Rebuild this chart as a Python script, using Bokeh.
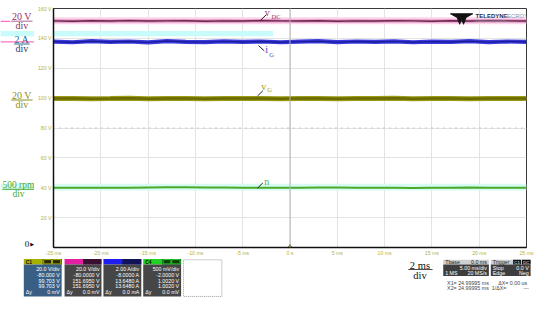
from bokeh.plotting import figure
from bokeh.models import Range1d, FixedTicker, Label, BoxAnnotation, Span
from bokeh.layouts import column, row
from bokeh.embed import file_html
from bokeh.resources import INLINE
from bokeh.core.properties import value

# ---------------- data ----------------
time_ms = [-25, -23, -21, -19, -17, -15, -13, -11, -9, -7, -5, -3, -1,
           1, 3, 5, 7, 9, 11, 13, 15, 17, 19, 21, 23, 25]
v_dc = [151.7, 151.5, 151.8, 151.6, 151.9, 151.6, 151.7, 151.8, 151.5, 151.7, 151.6, 151.9, 151.7,
        151.6, 151.8, 151.5, 151.7, 151.6, 151.8, 151.7, 151.5, 151.8, 151.6, 151.9, 151.7, 151.6]
i_g = [137.8, 137.4, 138.1, 137.6, 137.9, 137.3, 138.2, 137.7, 137.5, 138.0, 137.6, 137.9, 137.4,
       137.8, 138.1, 137.5, 137.9, 137.6, 138.0, 137.4, 137.8, 137.6, 138.1, 137.5, 137.9, 137.7]
v_g = [99.7, 99.8, 99.6, 99.7, 99.9, 99.6, 99.7, 99.8, 99.6, 99.7, 99.8, 99.7, 99.6,
       99.8, 99.7, 99.6, 99.8, 99.7, 99.9, 99.6, 99.7, 99.8, 99.6, 99.7, 99.8, 99.7]
n_disp = [40.0, 40.0, 40.0, 40.0, 40.0, 40.2, 40.3, 40.3, 40.2, 40.1, 40.0, 40.0, 40.0,
          40.0, 40.1, 40.1, 40.0, 40.0, 40.0, 39.9, 40.0, 40.0, 40.1, 40.0, 40.0, 40.0]

x_ticks = [-25, -20, -15, -10, -5, 0, 5, 10, 15, 20, 25]
x_tick_labels = ["-25 ms", "-20 ms", "-15 ms", "-10 ms", "-5 ms", "0 s",
                 "5 ms", "10 ms", "15 ms", "20 ms", "25 ms"]
y_ticks = [0, 20, 40, 60, 80, 100, 120, 140, 160]
y_tick_labels = ["", "20 V", "40 V", "60 V", "80 V", "100 V", "120 V", "140 V", "160 V"]
trigger_time = [0]
trigger_level = [0]

ch_rows = {
    "C1": ["20.0 V/div", "-80.000 V", "99.703 V", "99.703 V", "0 mV"],
    "C2": ["20.0 V/div", "-80.0000 V", "151.6950 V", "151.6950 V", "0.0 mV"],
    "C3": ["2.00 A/div", "-8.0000 A", "13.6480 A", "13.6480 A", "0.0 mA"],
    "C4": ["500 mV/div", "-2.0000 V", "1.0020 V", "1.0020 V", "0.0 mV"],
}

# ---------------- geometry ----------------
W, H = 534, 304
SX, SY = W / 550.0, H / 320.0       # reference pixels -> canvas pixels
LW = 34                             # left strip width
H1 = 258                            # height of the top row
FL, FR, FT, FB = 50.0, 526.0, 8.0, 247.0   # main frame in canvas pixels


def mX(rx):
    return -25 + (rx * SX - FL) * 50.0 / (FR - FL)


def mY(ry):
    return (FB - ry * SY) * 160.0 / (FB - FT)


SANS = "Liberation Sans"
SERIF = "Liberation Serif"

# ---------------- main scope figure ----------------
p = figure(width=W - LW, height=H1, x_range=Range1d(-25, 25), y_range=Range1d(0, 160),
           output_backend="svg", toolbar_location=None,
           min_border_left=int(FL - LW), min_border_right=int(W - FR),
           min_border_top=int(FT), min_border_bottom=int(H1 - FB))
p.background_fill_color = "white"
p.border_fill_color = "white"
p.outline_line_color = "#3a3a3a"
p.outline_line_width = 1

p.xaxis.ticker = FixedTicker(ticks=x_ticks)
p.xaxis.major_label_overrides = {t: l for t, l in zip(x_ticks, x_tick_labels)}
p.yaxis.ticker = FixedTicker(ticks=y_ticks)
p.yaxis.major_label_overrides = {t: l for t, l in zip(y_ticks, y_tick_labels)}
for ax in (p.xaxis[0], p.yaxis[0]):
    ax.axis_line_color = "#111111"
    ax.axis_line_width = 1.5
    ax.major_tick_line_color = None
    ax.minor_tick_line_color = None
    ax.major_tick_out = 0
    ax.major_tick_in = 0
    ax.minor_tick_out = 0
    ax.minor_tick_in = 0
    ax.major_label_text_font = SANS
    ax.major_label_text_font_size = "5.2px"
    ax.major_label_text_color = "#b2b24a"
    ax.major_label_standoff = 2
p.xgrid.ticker = FixedTicker(ticks=x_ticks)
p.ygrid.ticker = FixedTicker(ticks=y_ticks)
p.grid.grid_line_color = "#e3e3e3"
p.grid.grid_line_width = 1

# scope center cross
p.add_layout(Span(location=0, dimension="height", line_color="#b4b4b4", line_width=1))
p.add_layout(Span(location=80, dimension="width", line_color="#9a9a9a", line_width=1, line_dash="1 5"))

# highlight bands
p.add_layout(BoxAnnotation(top=mY(17.5), bottom=mY(25), fill_color="#fcd3ec", fill_alpha=1,
                           line_alpha=0, level="underlay"))
p.add_layout(BoxAnnotation(right=mX(279), top=mY(32), bottom=mY(37.5), fill_color="#c8fbfb",
                           fill_alpha=1, line_alpha=0, level="underlay"))
p.add_layout(BoxAnnotation(top=mY(193), bottom=mY(200), fill_color="#d6fbf3",
                           fill_alpha=1, line_alpha=0, level="underlay"))

# traces
p.line(time_ms, v_dc, line_color="#c26a9a", line_width=3.2, line_alpha=0.6)
p.line(time_ms, v_dc, line_color="#6e2350", line_width=1.4)
p.line(time_ms, i_g, line_color="#3a3ae0", line_width=4.2)
p.line(time_ms, i_g, line_color="#1c1c96", line_width=1.4)
p.line(time_ms, v_g, line_color="#9a9a18", line_width=5)
p.line(time_ms, v_g, line_color="#6a6a00", line_width=2.4)
p.line(time_ms, n_disp, line_color="#4aaa28", line_width=2)

# trigger marker at t = 0
p.scatter(trigger_time, trigger_level, marker="triangle", size=5, fill_color="#8c8c10",
          line_color="#5a5a00")

# leader lines for trace names
p.segment(x0=[mX(266), mX(264), mX(263), mX(263)], y0=[mY(21), mY(47.5), mY(100.5), mY(197.5)],
          x1=[mX(272), mX(270), mX(268.5), mX(268.5)], y1=[mY(15), mY(53), mY(95), mY(192)],
          line_color="#222222", line_width=1)


def lab(rx, ry, text, size, color, font=SANS, align="center", style="normal"):
    p.add_layout(Label(x=mX(rx), y=mY(ry), text=text, text_font=font, text_font_size=f"{size}px",
                       text_color=color, text_align=align, text_baseline="middle",
                       text_font_style=style))


# trace names
lab(273, 13, "v", 10, "#8a3a6a", SERIF)
lab(277.5, 16.5, "DC", 6.5, "#8a3a6a", SERIF, align="left")
lab(272.5, 52, "i", 10, "#4a4ac8", SERIF)
lab(275, 56.5, "G", 6.5, "#4a4ac8", SERIF, align="left")
lab(269.5, 90, "v", 10, "#9a9a22", SERIF)
lab(273, 93.5, "G", 6.5, "#9a9a22", SERIF, align="left")
lab(272.5, 190, "n", 10, "#5cae3c", SERIF)

# logo
p.patch([mX(463), mX(486), mX(479), mX(476.5), mX(474.5), mX(472.5), mX(470)],
        [mY(14), mY(14), mY(18), mY(25), mY(19), mY(25), mY(18)],
        fill_color="#111111", line_color="#111111")
lab(489, 16, "TELEDYNE", 6, "#1f2d4f", align="left", style="bold")
lab(518, 16, "LECROY", 6, "#8a90a0", align="left")
lab(489, 21.5, "Everywhereyoulook", 3.5, "#8a90a0", align="left")


# ---------------- helpers for the side strips (canvas-pixel frames) ----------------
def strip(width, height, y0, y1, btop=0, bbot=0):
    # data y equals canvas pixel y inside the frame [y0 + btop, y1 - bbot]
    f = figure(width=width, height=height, x_range=Range1d(0, width),
               y_range=Range1d(y1 - bbot, y0 + btop),
               output_backend="svg", toolbar_location=None, x_axis_type=None, y_axis_type=None,
               min_border_left=0, min_border_right=0, min_border_top=btop, min_border_bottom=bbot)
    f.outline_line_color = None
    f.grid.visible = False
    f.background_fill_color = "white"
    f.border_fill_color = "white"
    return f


def stext(f, rx, ry, txt, size, color, font=SANS, align="center", style="normal"):
    f.text(x=[rx * SX], y=[ry * SY], text=[txt], text_font=value(font),
           text_font_size=value(f"{size}px"), text_color=color, text_align=align,
           text_baseline="middle", text_font_style=style)


def squad(f, l, r, t, b, color, line=None, dash="solid"):
    f.quad(left=[l * SX], right=[r * SX], top=[t * SY], bottom=[b * SY],
           fill_color=color if color else "white", fill_alpha=1 if color else 0,
           line_color=line, line_alpha=1 if line else 0, line_dash=dash, line_width=1)


# ---------------- left strip: per-division labels (frame aligned with the scope frame) ----------------
left = strip(LW, H1, 0, H1, btop=int(FT), bbot=int(H1 - FB))
squad(left, 0, 40, 32, 37.5, "#c8fbfb")
squad(left, 0, 40, 193, 200, "#d6fbf3")
squad(left, 0, 10, 21.3, 22.5, "#ff6ec7")
squad(left, 0, 40, 43, 44.2, "#ff70c8")
for (cy, top_t, col_top, col_div, fs, cx, bw) in [(17, "20 V", "#9b2d6e", "#7b3a6a", 10, 22, 22),
                                                  (41, "2 A", "#2d6a8c", "#2a3a7a", 10, 22, 16),
                                                  (100, "20 V", "#8e8e1c", "#8e8e1c", 10, 22, 22),
                                                  (194, "500 rpm", "#4aaa30", "#4aaa30", 9.5, 18.5, 33)]:
    stext(left, cx, cy, top_t, fs, col_top, SERIF)
    squad(left, cx - bw / 2, cx + bw / 2, cy + 4.2, cy + 5.2, col_top)
    stext(left, cx, cy + 9.5, "div", fs, col_div, SERIF)
stext(left, 29.5, 256, "0", 9, "#111111", SERIF, align="right")
stext(left, 32.5, 256, "\u25B6", 5, "#111111", "DejaVu Sans")

# ---------------- bottom strip: channel and timebase panels ----------------
bot = strip(W, H - H1, H1, H)
channels = [("C1", 24, 63, "#a6b000", "#2a2a08", "#3a5f84"),
            ("C2", 66, 104, "#e21ea2", "#3a1030", "#464646"),
            ("C3", 106, 145, "#1e1ef0", "#121258", "#464646"),
            ("C4", 147, 186, "#22d022", "#0e3e0e", "#464646")]
for name, l, r, hc, hd, bc in channels:
    mid = l + (r - l) * 0.5
    squad(bot, l, r, 272, 278, hc)
    squad(bot, mid, r, 272, 278, hd)
    if name in ("C1", "C4"):
        stext(bot, l + 2, 275, name, 5, "#111111", align="left", style="bold")
        squad(bot, mid + 1, mid + 9, 272.7, 277.3, hd, line=hc)
        squad(bot, mid + 10, r - 1, 272.7, 277.3, hd, line=hc)
    squad(bot, l, r, 278, 311.5, bc)
    for k, txt in enumerate(ch_rows[name]):
        stext(bot, r - 2, 283 + 6 * k, txt, 5.3, "#ffffff", align="right")
    stext(bot, l + 2, 307, "\u0394y", 5.3, "#ffffff", align="left")
squad(bot, 188.5, 228, 273, 311.5, None, line="#9a9a9a", dash="1 1")

stext(bot, 432, 278.5, "2 ms", 10.5, "#111111", SERIF)
squad(bot, 420, 445, 282.5, 283.5, "#111111")
stext(bot, 432, 289.5, "div", 10.5, "#111111", SERIF)

squad(bot, 456, 503, 273, 278, "#cfcfcf")
stext(bot, 458, 275.5, "Tbase", 5.3, "#222222", align="left")
stext(bot, 501, 275.5, "0.0 ms", 5.3, "#222222", align="right")
squad(bot, 456, 503, 278, 290, "#3e3e3e")
stext(bot, 501, 281.5, "5.00 ms/div", 5.3, "#ffffff", align="right")
stext(bot, 458, 287, "1 MS", 5.3, "#ffffff", align="left")
stext(bot, 501, 287, "20 MS/s", 5.3, "#ffffff", align="right")

squad(bot, 505, 546, 273, 278, "#cfcfcf")
stext(bot, 507, 275.5, "Trigger", 5.3, "#222222", align="left")
squad(bot, 528, 536, 273, 278, "#111111")
squad(bot, 537, 546, 273, 278, "#111111")
stext(bot, 532, 275.5, "C1", 4.3, "#ffffff")
stext(bot, 541.5, 275.5, "DC", 4.3, "#ffffff")
squad(bot, 505, 546, 278, 290, "#3e3e3e")
stext(bot, 507, 281.5, "Stop", 5.3, "#ffffff", align="left")
stext(bot, 544, 281.5, "0.0 V", 5.3, "#ffffff", align="right")
stext(bot, 507, 287, "Edge", 5.3, "#ffffff", align="left")
stext(bot, 544, 287, "Neg", 5.3, "#ffffff", align="right")

stext(bot, 460, 297, "X1=  24.99995 ms", 5.3, "#444444", align="left")
stext(bot, 544, 297, "\u0394X=  0.00 us", 5.3, "#444444", align="right")
stext(bot, 460, 303, "X2=  24.99995 ms", 5.3, "#444444", align="left")
stext(bot, 506, 303, "1/\u0394X=", 5.3, "#444444", align="left")
stext(bot, 544, 303, "---", 5.3, "#444444", align="right")

layout = column(row(left, p, spacing=0), bot, spacing=0)
open("out.html", "w").write(file_html(layout, INLINE))
